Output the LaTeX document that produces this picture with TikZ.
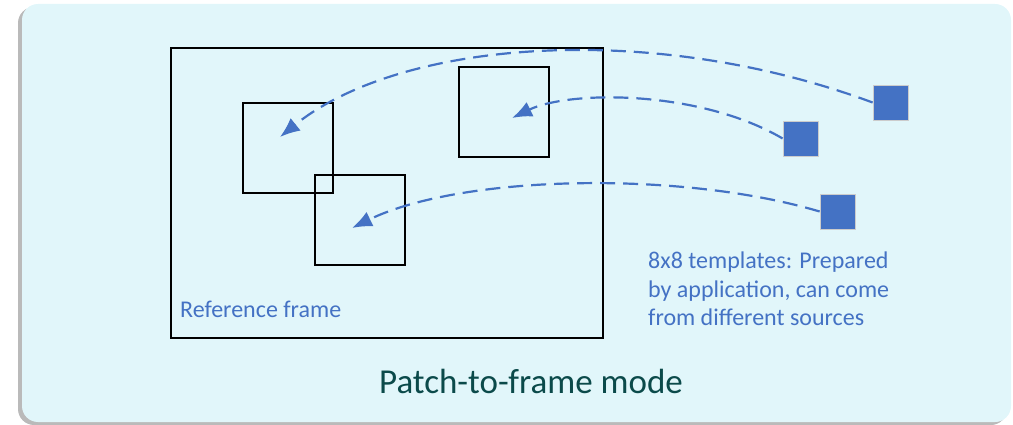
\documentclass[tikz,border=0pt]{standalone}
\usepackage{fontspec}
\setmainfont{Carlito}
\usetikzlibrary{arrows.meta,shadows}
\definecolor{bgc}{HTML}{E1F6FA}
\definecolor{blu}{HTML}{4472C4}
\definecolor{ttl}{HTML}{0B4A4A}
\tikzset{
  panel/.style={fill=bgc, rounded corners=16pt, draw=none,
    drop shadow={shadow xshift=-4pt, shadow yshift=-3pt, opacity=0.45, fill=black!60}},
  frm/.style={draw=black, line width=2.6pt, minimum width=432pt, minimum height=290pt, inner sep=0pt},
  patch/.style={draw=black, line width=1.2pt, minimum size=90pt, inner sep=0pt},
  tmpl/.style={fill=blu, draw=black!20, line width=0.8pt, minimum size=35pt, inner sep=0pt},
  link/.style={draw=blu, line width=2.2pt, dash pattern=on 15pt off 8pt, -{Latex[length=20pt,width=16pt]}},
  lbl/.style={text=blu, font=\fontsize{24}{28.3}\selectfont, inner sep=0pt}
}
\begin{document}
\begin{tikzpicture}[x=1pt,y=-1pt]
\useasboundingbox (0,0) rectangle (1013,425);
\path[panel] (22,4) rectangle (1011,422);
\node[frm] (frame) at (387,193) {};
\node[patch] (pa) at (288,148) {};
\node[patch] (pb) at (360,220) {};
\node[patch] (pc) at (504,112) {};
\node[tmpl] (s1) at (890.5,102.5) {};
\node[tmpl] (s2) at (800.5,138.5) {};
\node[tmpl] (s3) at (837.5,211.5) {};
\coordinate (ta) at (280,137);
\coordinate (tb) at (352,228);
\coordinate (tc) at (512,118);
\draw[link] (s1.west) .. controls (650,20) and (400,40) .. (ta);
\draw[link] (s2.west) .. controls (700,90) and (570,90) .. (tc);
\draw[link] (s3.west) .. controls (680,170) and (460,175) .. (tb);
\node[lbl, anchor=base west] (reflbl) at (180,317) {Reference frame};
\node[lbl, anchor=north west, align=left] (tmpllbl) at (648,252) {8x8 templates: Prepared\\by application, can come\\from different sources};
\node[text=ttl, font=\fontsize{35}{40}\selectfont, inner sep=0pt, anchor=base] (title) at (531,393) {Patch-to-frame mode};
\end{tikzpicture}
\end{document}
